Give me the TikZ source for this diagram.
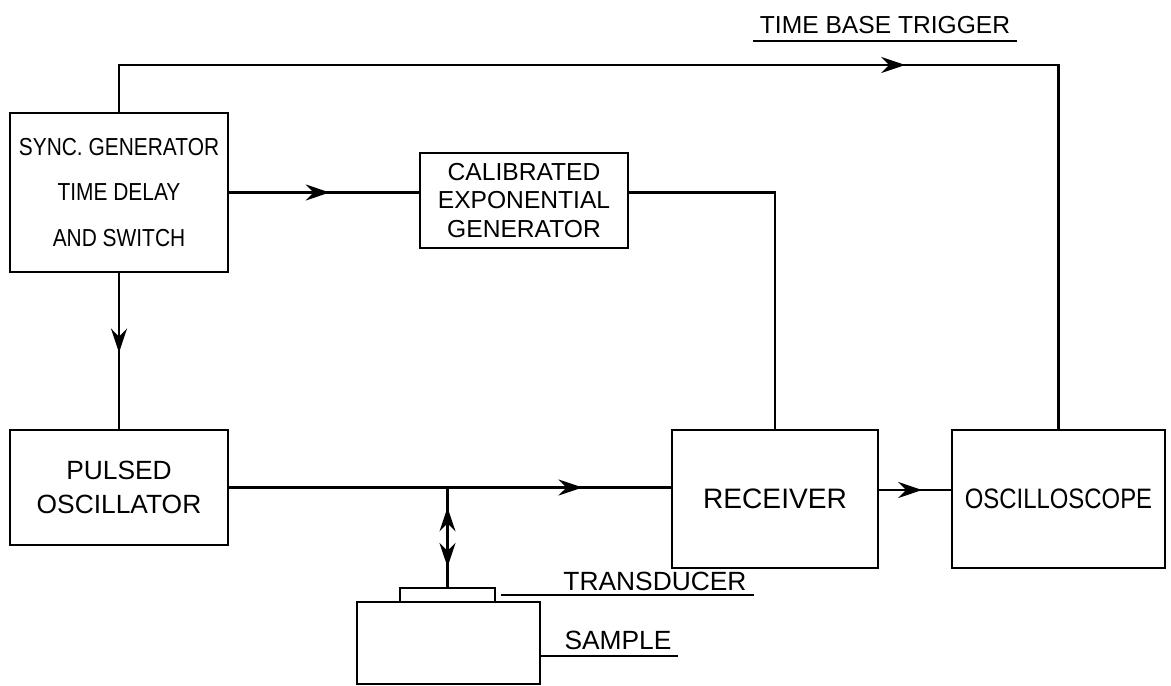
\documentclass[tikz,border=0pt]{standalone}
\usepackage{fontspec}
\setmainfont{Liberation Sans}
\newfontfamily\condfont[FakeStretch=0.85]{Liberation Sans}
\usetikzlibrary{arrows.meta,decorations.markings}

\begin{document}
\begin{tikzpicture}[line width=1.3pt,font=\fontsize{15}{19}\selectfont,
  blk/.style={draw,align=center},
  midarr/.style={postaction={decorate},decoration={markings,
    mark=at position #1 with {\arrow{Stealth[length=4.8mm,width=3.2mm,inset=1.6mm]}}}}]
\useasboundingbox (0,0) rectangle (23.42,13.7);
% boxes
\node[blk,minimum width=4.36cm,minimum height=3.18cm,font=\condfont\fontsize{14}{26}\selectfont] (sync) at (2.38,9.85) {SYNC. GENERATOR\\TIME DELAY\\AND SWITCH};
\node[blk,minimum width=4.16cm,minimum height=1.9cm,font=\fontsize{14}{16}\selectfont] (calib) at (10.48,9.69) {CALIBRATED\\EXPONENTIAL\\GENERATOR};
\node[blk,minimum width=4.36cm,minimum height=2.3cm] (pulsed) at (2.38,3.95) {PULSED\\OSCILLATOR};
\node[blk,minimum width=4.12cm,minimum height=2.76cm,font=\fontsize{16}{19}\selectfont] (rec) at (15.5,3.72) {RECEIVER};
\node[blk,minimum width=4.26cm,minimum height=2.76cm,font=\condfont\fontsize{16}{19}\selectfont] (osc) at (21.17,3.72) {OSCILLOSCOPE};
\node[draw,minimum width=1.9cm,minimum height=0.28cm,inner sep=0pt] (trans) at (8.95,1.80) {};
\node[draw,minimum width=3.66cm,minimum height=1.64cm] (sample) at (8.97,0.84) {};
% labels
\node[font=\fontsize{14}{17}\selectfont] (tbt) at (17.7,13.2) {TIME BASE TRIGGER};
\draw (tbt.south west) -- (tbt.south east);
\node (tdlbl) at (13.1,2.08) {TRANSDUCER};
\node (smp) at (12.36,0.9) {SAMPLE};
\draw ([xshift=-3.5mm]smp.south west) -- (smp.south east);
% connectors
\coordinate (top) at (0,12.4);
\coordinate (jn) at (trans.north |- pulsed.east);
\draw[midarr=0.617] (sync.north) -- (sync.north |- top) -| (osc.north);
\draw[midarr=0.53] (sync.east) -- (sync.east -| calib.west);
\draw (calib.east |- sync.east) -| (rec.north);
\draw[midarr=0.51] (sync.south) -- (pulsed.north);
\draw[midarr=0.8] (pulsed.east) -- (pulsed.east -| rec.west);
\draw[midarr=0.6] ([yshift=1.8mm]rec.east) -- ([yshift=1.8mm]rec.east -| osc.west);
\draw[postaction={decorate},decoration={markings,
  mark=at position 0.2 with {\arrowreversed{Stealth[length=4.8mm,width=3.2mm,inset=1.6mm]}},
  mark=at position 0.8 with {\arrow{Stealth[length=4.8mm,width=3.2mm,inset=1.6mm]}}}] (jn) -- (trans.north);
\draw ([xshift=1mm]trans.east) -- (trans.east -| tdlbl.east);
\end{tikzpicture}
\end{document}
